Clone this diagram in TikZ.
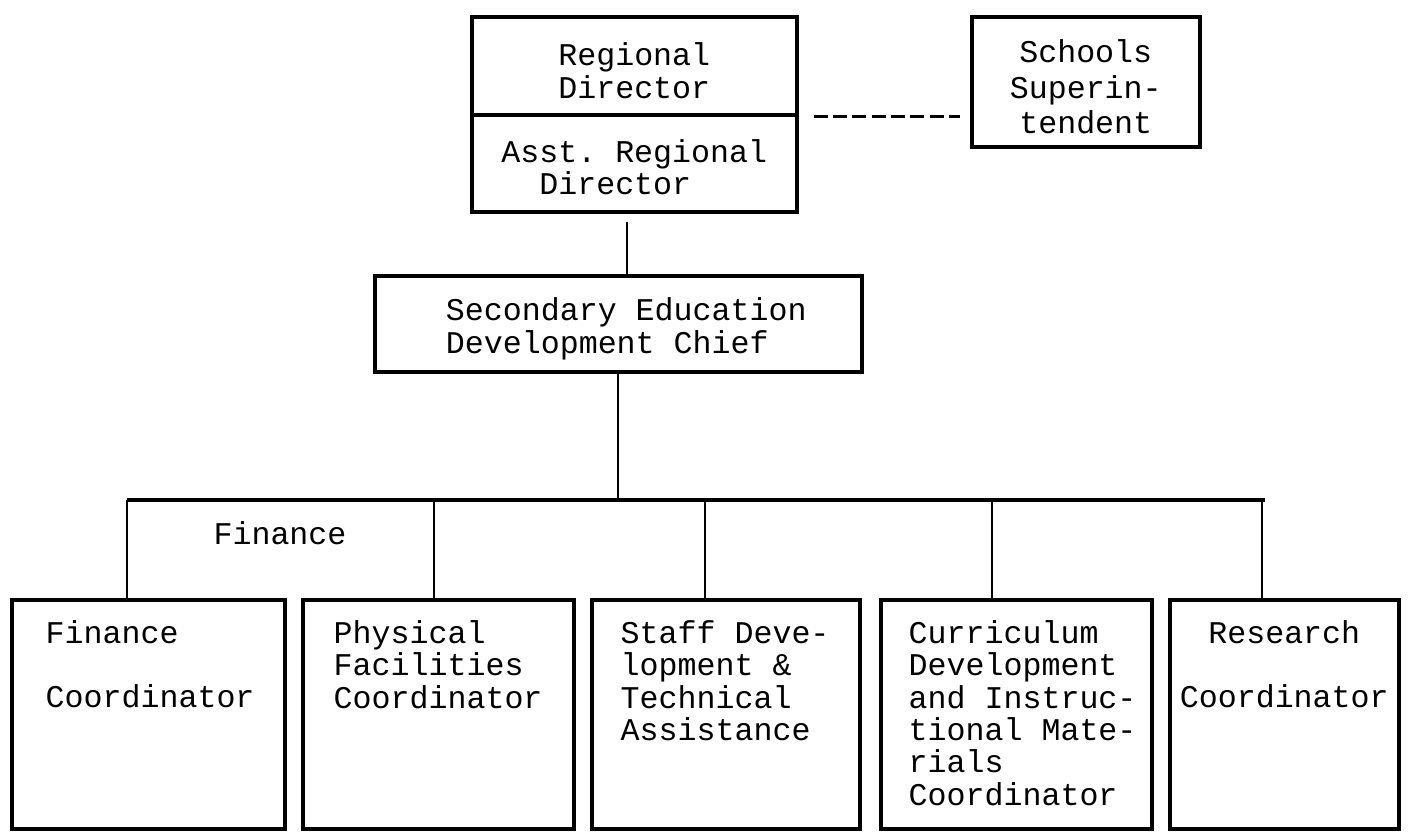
\documentclass[tikz,border=0pt]{standalone}
\usepackage{fontspec}
\setmonofont{Liberation Mono}
\begin{document}
\begin{tikzpicture}[
  box/.style={draw, line width=1pt, inner sep=0pt},
  lbl/.style={font=\ttfamily\fontsize{9pt}{9.2pt}\selectfont, inner sep=0pt},
  link/.style={line width=0.7pt}]
\useasboundingbox (0,0) rectangle (14.11,-8.31);

\node[box, anchor=north west, minimum width=3.25cm, minimum height=0.98cm] (rd) at (4.70,-0.15) {};
\node[box, anchor=north west, minimum width=3.25cm, minimum height=0.97cm] (ard) at (4.70,-1.13) {};
\node[box, anchor=north west, minimum width=2.28cm, minimum height=1.30cm] (sch) at (9.70,-0.15) {};
\node[box, anchor=north west, minimum width=4.87cm, minimum height=0.96cm] (sec) at (3.73,-2.74) {};

\node[lbl, align=center] (rdt) at ([yshift=-0.05cm]rd.center) {Regional\\Director};
\node[lbl, align=left] (ardt) at ([yshift=-0.04cm]ard.center) {Asst. Regional\\\phantom{As}Director};
\node[lbl, align=center] (scht) at ([yshift=-0.05cm]sch.center) {Schools\\[0.03cm]Superin-\\[0.03cm]tendent};
\node[lbl, align=left] (sect) at ([xshift=0.08cm,yshift=-0.05cm]sec.center) {Secondary Education\\Development Chief};

\node[box, anchor=north west, minimum width=2.73cm, minimum height=2.29cm] (fin) at (0.10,-5.98) {};
\node[box, anchor=north west, minimum width=2.71cm, minimum height=2.29cm] (phy) at (3.01,-5.98) {};
\node[box, anchor=north west, minimum width=2.68cm, minimum height=2.29cm] (stf) at (5.90,-5.98) {};
\node[box, anchor=north west, minimum width=2.71cm, minimum height=2.29cm] (cur) at (8.79,-5.98) {};
\node[box, anchor=north west, minimum width=2.29cm, minimum height=2.29cm] (res) at (11.68,-5.98) {};

\node[lbl, align=left, anchor=north west] (fint) at ([xshift=0.35cm,yshift=-0.22cm]fin.north west) {Finance\\[0.32cm]Coordinator};
\node[lbl, align=left, anchor=north west] (phyt) at ([xshift=0.32cm,yshift=-0.22cm]phy.north west) {Physical\\Facilities\\Coordinator};
\node[lbl, align=left, anchor=north west] (stft) at ([xshift=0.30cm,yshift=-0.22cm]stf.north west) {Staff Deve-\\lopment \&\\Technical\\Assistance};
\node[lbl, align=left, anchor=north west] (curt) at ([xshift=0.29cm,yshift=-0.22cm]cur.north west) {Curriculum\\Development\\and Instruc-\\tional Mate-\\rials\\Coordinator};
\node[lbl, align=center, anchor=north] (rest) at ([yshift=-0.22cm]res.north) {Research\\[0.32cm]Coordinator};

\node[lbl] (finl) at (2.80,-5.33) {Finance};

\coordinate (dl) at (rd.south east -| sch.west);
\draw[link, dash pattern=on 4pt off 1.5pt] ([xshift=0.15cm]rd.south east) -- ([xshift=-0.10cm]dl);

\coordinate (up) at ([xshift=-0.07cm,yshift=-0.08cm]ard.south);
\draw[link] (up) -- (up |- sec.north);

\foreach \x/\b in {1.27/fin,4.34/phy,7.05/stf,9.92/cur,12.62/res}{
  \coordinate (d-\b) at (\x,-5.00);
  \draw[link] (d-\b) -- (d-\b |- \b.north);
}
\draw[line width=1pt] (d-fin) -- ([xshift=0.03cm]d-res);
\draw[link] (sec.south) -- (sec.south |- d-fin);
\end{tikzpicture}
\end{document}
